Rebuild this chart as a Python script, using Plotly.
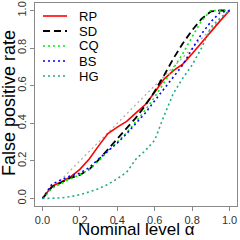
import plotly.graph_objects as go

# ---------------- data ----------------
alpha = [0.0, 0.05, 0.10, 0.15, 0.20, 0.25, 0.30, 0.35, 0.40, 0.45, 0.50,
         0.55, 0.60, 0.65, 0.70, 0.75, 0.80, 0.85, 0.90, 0.95, 1.0]

rp = [0.0, 0.065, 0.088, 0.115, 0.155, 0.21, 0.28, 0.345, 0.38, 0.41, 0.455,
      0.50, 0.565, 0.635, 0.68, 0.715, 0.77, 0.83, 0.89, 0.945, 1.0]
sd = [0.0, 0.06, 0.085, 0.11, 0.125, 0.155, 0.205, 0.26, 0.32, 0.37, 0.43,
      0.495, 0.57, 0.655, 0.745, 0.825, 0.895, 0.955, 0.995, 1.0, 1.0]
cq = [0.0, 0.055, 0.08, 0.105, 0.125, 0.155, 0.20, 0.25, 0.30, 0.35, 0.41,
      0.47, 0.54, 0.615, 0.69, 0.77, 0.86, 0.945, 1.0, 1.0, 1.0]
bs = [0.0, 0.075, 0.10, 0.12, 0.135, 0.165, 0.21, 0.25, 0.295, 0.345, 0.40,
      0.455, 0.52, 0.585, 0.645, 0.71, 0.795, 0.875, 0.94, 0.99, 1.0]
hg = [0.0, 0.0, 0.003, 0.01, 0.02, 0.035, 0.052, 0.075, 0.105, 0.14, 0.21,
      0.255, 0.31, 0.44, 0.56, 0.64, 0.71, 0.80, 0.91, 0.96, 1.0]

ref_line = [0.0, 1.0]

names = ["RP", "SD", "CQ", "BS", "HG"]
series = [rp, sd, cq, bs, hg]
colors = ["#FF0000", "#000000", "#00EE00", "#0000FF", "#22AA88"]
dashes = ["solid", "7px,4px", "2px,3px", "2px,3px", "2px,3px"]
widths = [1.6, 1.8, 1.6, 1.6, 1.6]

tick_vals = [0.0, 0.2, 0.4, 0.6, 0.8, 1.0]
tick_text = ["0.0", "0.2", "0.4", "0.6", "0.8", "1.0"]

x_title = "Nominal level α"
y_title = "False positive rate"

# ---------------- figure ----------------
W, H = 240, 240
ML, MR, MT, MB = 35, 3, 3, 34
FONT = "Liberation Sans, Arial, sans-serif"

fig = go.Figure()
fig.add_trace(go.Scatter(x=ref_line, y=ref_line, mode="lines",
                         line=dict(color="#AAAAAA", width=1.2, dash="2px,3px"),
                         showlegend=False, hoverinfo="skip"))
for n, s, c, d, w in zip(names, series, colors, dashes, widths):
    fig.add_trace(go.Scatter(x=alpha, y=s, mode="lines", name=n,
                             line=dict(color=c, width=w, dash=d),
                             showlegend=False))

pw, ph = W - ML - MR, H - MT - MB
def px2paper_x(px):
    return (px - ML) / pw
def px2paper_y(py):
    return (H - MB - py) / ph

shapes = []
annotations = []
# manual legend (compact spacing like base R legend)
for i, (n, c, d, w) in enumerate(zip(names, colors, dashes, widths)):
    py = 16 + 15 * i
    shapes.append(dict(type="line", xref="paper", yref="paper",
                       x0=px2paper_x(43), x1=px2paper_x(67),
                       y0=px2paper_y(py), y1=px2paper_y(py),
                       line=dict(color=c, width=w, dash=d)))
    annotations.append(dict(text=n, xref="paper", yref="paper",
                            x=px2paper_x(77), y=px2paper_y(py),
                            xanchor="left", yanchor="middle", showarrow=False,
                            font=dict(family=FONT, size=13, color="#000000")))

# axis titles
annotations.append(dict(text=x_title, xref="paper", yref="paper",
                        x=px2paper_x(136), y=px2paper_y(229),
                        xanchor="center", yanchor="middle", showarrow=False,
                        font=dict(family=FONT, size=17, color="#000000")))
annotations.append(dict(text=y_title, xref="paper", yref="paper",
                        x=px2paper_x(9), y=px2paper_y(103),
                        xanchor="center", yanchor="middle", showarrow=False,
                        textangle=-90,
                        font=dict(family=FONT, size=18, color="#000000")))

axis_common = dict(range=[-0.04, 1.04], tickvals=tick_vals, ticktext=tick_text,
                   showline=True, mirror=True, linecolor="#888888", linewidth=1,
                   ticks="outside", ticklen=4, tickcolor="#888888",
                   showgrid=False, zeroline=False, automargin=False,
                   tickfont=dict(family=FONT, size=11, color="#333333"))

fig.update_layout(
    width=W, height=H,
    margin=dict(l=ML, r=MR, t=MT, b=MB, autoexpand=False),
    paper_bgcolor="white", plot_bgcolor="white",
    xaxis=dict(**axis_common),
    yaxis=dict(**axis_common, tickangle=-90),
    shapes=shapes, annotations=annotations,
    showlegend=False,
)

fig.write_html("out.html",
               config={"displayModeBar": False, "staticPlot": True},
               post_script="document.body.style.margin='0px';"
                           "document.body.style.overflow='hidden';")
